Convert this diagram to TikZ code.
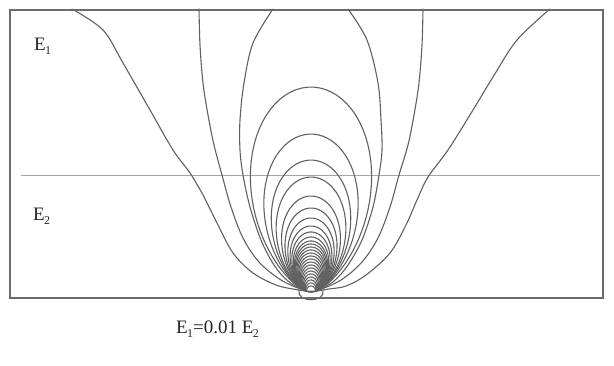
\documentclass[tikz,border=0pt]{standalone}
\usepackage{fontspec}
\setmainfont{Liberation Serif}
\newcommand{\lowsub}[1]{\kern-0.6pt\raisebox{-4.5pt}{\fontsize{12}{12}\selectfont #1}}
\begin{document}
\begin{tikzpicture}[x=1pt,y=-1pt,
  curve/.style={draw=black!62, line width=1.1pt, line join=round, line cap=round},
  boxline/.style={draw=black!58, line width=1.6pt},
  iface/.style={draw=black!35, line width=0.9pt},
  lab/.style={inner sep=0pt, text=black!85, font=\fontsize{19}{19}\selectfont}]
\useasboundingbox (0,0) rectangle (614,365);
\fill[white] (0,0) rectangle (614,365);
% interface between layers
\coordinate (ifl) at (21,175);
\coordinate (ifr) at (600,175);
\draw[iface] (ifl) -- (ifr);
% closed contour loops around the source
\foreach \T in {204,157,131,114,95,83,73,65,59,54,50,47,44,41,38,35,32,29,26,23,20,17,14,11,8,5}{
  \draw[curve] plot[domain=0.5:179.5, samples=110]
    ({311 + (\T*pow(sin(\x),4)+5)*cos(\x)}, {291 - \T*pow(sin(\x),5)});
}
% open contours reaching the top edge
\draw[curve] plot[smooth, tension=0.55] coordinates {(72,9) (103,30) (123,63) (150,110) (173,150) (190,173) (203,195) (217,223) (233,253) (253,273) (276,285) (293,289) (306,291) (316,291) (329,289) (346,286) (366,275) (390,253) (406,225) (417,200) (428,177) (448,150) (473,110) (493,77) (517,40) (550,9)};
\draw[curve] plot[smooth, tension=0.55] coordinates {(199,9) (200,45) (203,83) (208,115) (214,145) (222,175) (231,207) (243,238) (259,262) (281,280) (306,291) (316,291) (341,280) (362,262) (378,238) (390,207) (399,175) (408,145) (414,115) (419,83) (422,45) (423,9)};
\draw[curve] plot[smooth, tension=0.55] coordinates {(273,9) (253,43) (244,83) (240,120) (240,150) (243,175) (250,207) (261,240) (274,265) (288,281) (306,291) (316,291) (334,281) (348,265) (362,240) (373,207) (379,175) (382,150) (381,120) (378,83) (367,40) (348,9)};
% small bump at the source
\draw[curve] (299,290) .. controls (296,303) and (326,303) .. (323,290);
% frame
\node[boxline, draw, rectangle, minimum width=593pt, minimum height=288pt, inner sep=0pt, anchor=north west] (frame) at (9,9) {};
% labels
\node[lab, anchor=base west] (e1) at (34,50) {E\lowsub{1}};
\node[lab, anchor=base west] (e2) at (33,220) {E\lowsub{2}};
\node[lab, anchor=base west] (cap) at (176,333) {E\lowsub{1}=0.01 E\lowsub{2}};
\end{tikzpicture}
\end{document}
